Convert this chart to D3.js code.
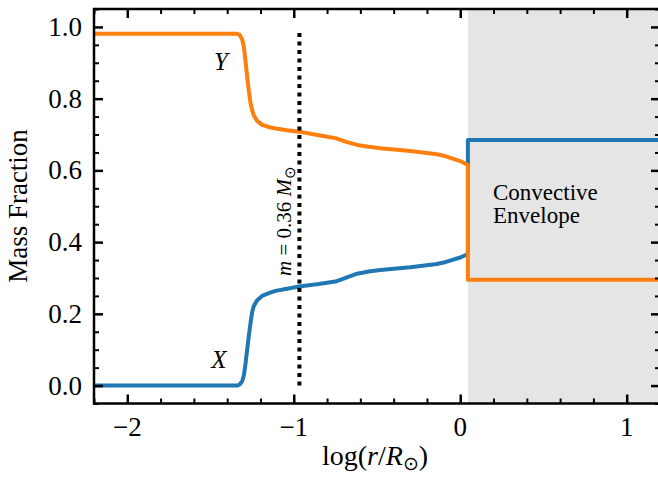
<!DOCTYPE html>
<html>
<head>
<meta charset="utf-8">
<script src="https://cdn.jsdelivr.net/npm/d3@7"></script>
<style>
  body { margin: 0; background: #fff; }
  svg { display: block; }
</style>
</head>
<body>
<svg id="chart" width="658" height="479"></svg>
<script>
// log(r/Rsun) sample points, shared by both curves (the step at the envelope base repeats x)
var logR = [-2.2, -1.34, -1.325, -1.31, -1.3, -1.29, -1.28, -1.27, -1.26, -1.25, -1.24, -1.22,
  -1.19, -1.15, -1.11, -1.04, -0.97, -0.85, -0.75, -0.68, -0.62, -0.55, -0.48, -0.3,
  -0.14, -0.1, 0.0, 0.046, 0.046, 1.2];
var heliumY = [0.981, 0.981, 0.978, 0.965, 0.945, 0.905, 0.862, 0.822, 0.788, 0.768, 0.753, 0.738,
  0.727, 0.721, 0.717, 0.712, 0.708, 0.698, 0.69, 0.679, 0.671, 0.666, 0.662, 0.654,
  0.645, 0.641, 0.626, 0.615, 0.295, 0.295];
var hydrogenX = [0, 0, 0.003, 0.012, 0.028, 0.06, 0.1, 0.138, 0.174, 0.205, 0.222, 0.238,
  0.25, 0.258, 0.264, 0.27, 0.276, 0.283, 0.29, 0.302, 0.312, 0.318, 0.322, 0.33,
  0.339, 0.343, 0.357, 0.367, 0.685, 0.685];
var envelopeBase = 0.046;
var massLine = { x: -0.966, y0: 0, y1: 0.985 };
var xTicks = [-2, -1, 0, 1];
var yTicks = [0.0, 0.2, 0.4, 0.6, 0.8, 1.0];

var serif = "'Liberation Serif', 'Times New Roman', serif";
var svg = d3.select("#chart");
var plotL = 94, plotR = 660, plotT = 9, plotB = 403.5;

var x = d3.scaleLinear().domain([-2.2, 1.2]).range([plotL, plotR]);
var y = d3.scaleLinear().domain([-0.05, 1.05]).range([plotB, plotT]);

function label(px, py, size, txt) {
  return svg.append("text")
    .attr("x", px).attr("y", py)
    .style("font-family", serif)
    .style("font-size", size + "px")
    .style("fill", "#000")
    .text(txt);
}

// convective envelope shading
svg.append("rect")
  .attr("x", x(envelopeBase))
  .attr("y", plotT)
  .attr("width", plotR - x(envelopeBase))
  .attr("height", plotB - plotT)
  .style("fill", "#e5e5e5");

var line = d3.line()
  .x(function (d) { return x(d[0]); })
  .y(function (d) { return y(d[1]); });

var series = [
  { values: hydrogenX, color: "#1f77b4" },
  { values: heliumY, color: "#ff7f0e" },
];
series.forEach(function (s) {
  svg.append("path")
    .datum(logR.map(function (v, i) { return [v, s.values[i]]; }))
    .attr("d", line)
    .style("fill", "none")
    .style("stroke", s.color)
    .style("stroke-width", 4)
    .style("stroke-linejoin", "round");
});

svg.append("line")
  .attr("x1", x(massLine.x)).attr("x2", x(massLine.x))
  .attr("y1", y(massLine.y0)).attr("y2", y(massLine.y1))
  .style("stroke", "#000")
  .style("stroke-width", 4)
  .style("stroke-dasharray", "4,4.5");

// axes: inward ticks on all four sides
var minorX = d3.range(-2.2, 1.21, 0.2).filter(function (v) { return Math.abs(v - Math.round(v)) > 0.01; });
var minorY = d3.range(-0.05, 1.051, 0.05).filter(function (v) { return Math.abs(v * 5 - Math.round(v * 5)) > 0.01; });

function ticks(axisGen, g, vals, size, w) {
  g.call(axisGen.tickValues(vals).tickSize(size).tickFormat(""));
  g.select(".domain").remove();
  g.selectAll("text").remove();
  g.selectAll("line").style("stroke", "#000").style("stroke-width", w);
}

var axes = [
  [d3.axisTop, x, "translate(0," + plotB + ")", minorX, xTicks],
  [d3.axisBottom, x, "translate(0," + plotT + ")", minorX, xTicks],
  [d3.axisRight, y, "translate(" + plotL + ",0)", minorY, yTicks],
  [d3.axisLeft, y, "translate(" + plotR + ",0)", minorY, yTicks],
];
axes.forEach(function (a) {
  ticks(a[0](a[1]), svg.append("g").attr("transform", a[2]), a[3], 5, 2);
  ticks(a[0](a[1]), svg.append("g").attr("transform", a[2]), a[4], 9, 2.5);
});

svg.append("rect")
  .attr("x", plotL).attr("y", plotT)
  .attr("width", plotR - plotL).attr("height", plotB - plotT)
  .style("fill", "none").style("stroke", "#000").style("stroke-width", 2.5);

// tick labels
xTicks.forEach(function (d) {
  label(x(d), 436, 27, d < 0 ? "\u2212" + Math.abs(d) : String(d))
    .attr("text-anchor", "middle");
});
yTicks.forEach(function (d) {
  label(82, y(d) + 9, 27, d.toFixed(1)).attr("text-anchor", "end");
});

// axis titles
var xl = label((plotL + plotR) / 2 - 2, 465, 28, null).attr("text-anchor", "middle");
xl.append("tspan").text("log(");
xl.append("tspan").style("font-style", "italic").text("r");
xl.append("tspan").text("/");
xl.append("tspan").style("font-style", "italic").text("R");
xl.append("tspan").attr("dy", 5).style("font-size", "19px").text("\u2299");
xl.append("tspan").attr("dy", -5).text(")");

label(0, 0, 27, "Mass Fraction")
  .attr("transform", "translate(27,206) rotate(-90)")
  .attr("text-anchor", "middle");

// curve labels
label(221, 70, 25, "Y").attr("text-anchor", "middle").style("font-style", "italic");
label(219, 368, 25, "X").attr("text-anchor", "middle").style("font-style", "italic");

var mt = label(0, 0, 21, null).attr("transform", "translate(291,276) rotate(-90)");
mt.append("tspan").style("font-style", "italic").text("m");
mt.append("tspan").text(" = 0.36 ");
mt.append("tspan").style("font-style", "italic").text("M");
mt.append("tspan").attr("dy", 4).style("font-size", "15px").text("\u2299");

label(493, 200, 23, "Convective");
label(493, 223, 23, "Envelope");
</script>
</body>
</html>
